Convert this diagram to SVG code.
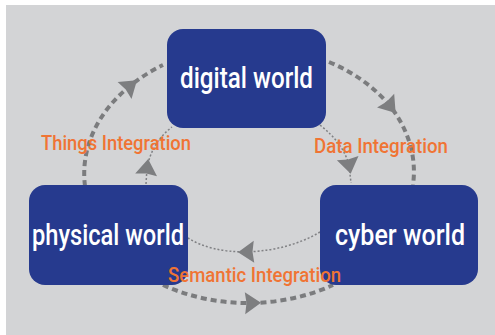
<svg xmlns="http://www.w3.org/2000/svg" width="495" height="335" viewBox="0 0 495 335">
  <style>
    .box { fill: #263a8e; }
    .name { fill: #ffffff; font-family: Roboto, "Liberation Sans", Arial, sans-serif; font-weight: 500; font-size: 29px; text-anchor: middle; }
    .label { fill: #f07434; font-family: Roboto, "Liberation Sans", Arial, sans-serif; font-weight: 500; font-size: 20px; }
    .outer { fill: none; stroke: #7b7c7e; stroke-width: 4; stroke-dasharray: 6 4; }
    .inner { fill: none; stroke: #808184; stroke-width: 1.5; stroke-dasharray: 2 2; }
  </style>
  <defs>
    <marker id="head" viewBox="-12 -14 24 28" refX="0" refY="0" markerWidth="24" markerHeight="28" markerUnits="userSpaceOnUse" orient="auto">
      <path d="M 9 0 L -7 -11 L -5.5 0 L -7 11 Z" fill="#7d7e80"/>
    </marker>
  </defs>

  <!-- canvas -->
  <rect x="0" y="0" width="495" height="335" fill="#ffffff"/>
  <rect x="6" y="5" width="489" height="330" fill="#d3d4d6"/>

  <!-- connectors -->
  <g id="connectors">
    <!-- outer ring -->
    <path class="outer" d="M 85 186 A 166 127 0 0 1 130 86 A 166 127 0 0 1 163 65" marker-mid="url(#head)"/>
    <path class="outer" d="M 329 62 A 166 127 0 0 1 390 106 A 166 127 0 0 1 413 185" marker-mid="url(#head)"/>
    <path class="outer" d="M 163 285 A 166 127 0 0 0 252 303 A 166 127 0 0 0 333 285" marker-mid="url(#head)"/>
    <!-- inner ring -->
    <path class="inner" d="M 146 184 L 147 168 Q 152 142 172 127" marker-mid="url(#head)"/>
    <path class="inner" d="M 320 125 Q 343 143 349 165 L 351 183" marker-mid="url(#head)"/>
    <path class="inner" d="M 320 232 Q 290 250 247 252 Q 210 252 188 238" marker-mid="url(#head)"/>
  </g>

  <g id="digital-world">
    <rect class="box" x="167" y="29" width="159" height="99" rx="16"/>
    <text class="name" x="246.5" y="88" textLength="133" lengthAdjust="spacingAndGlyphs">digital world</text>
  </g>

  <g id="physical-world">
    <rect class="box" x="29" y="185" width="159" height="100" rx="16"/>
    <text class="name" x="108" y="245" textLength="152" lengthAdjust="spacingAndGlyphs">physical world</text>
  </g>

  <g id="cyber-world">
    <rect class="box" x="320" y="185" width="158" height="100" rx="16"/>
    <text class="name" x="400" y="245" textLength="130" lengthAdjust="spacingAndGlyphs">cyber world</text>
  </g>

  <g id="labels">
    <text class="label" x="41" y="150" textLength="150" lengthAdjust="spacingAndGlyphs">Things Integration</text>
    <text class="label" x="314" y="153" textLength="134" lengthAdjust="spacingAndGlyphs">Data Integration</text>
    <text class="label" x="168" y="282" textLength="173" lengthAdjust="spacingAndGlyphs">Semantic Integration</text>
  </g>
</svg>
